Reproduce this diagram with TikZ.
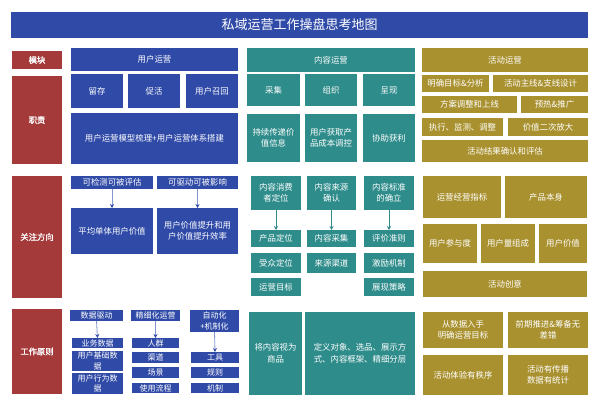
\documentclass[tikz,border=0pt]{standalone}
\usepackage{fontspec}
\setmainfont{Noto Sans CJK SC}
\newfontfamily\cjkbold{Noto Sans CJK SC}[FakeBold=1.5]
\usetikzlibrary{arrows.meta}
\definecolor{ublue}{HTML}{2F4AA7}
\definecolor{ured}{HTML}{A53A3B}
\definecolor{uteal}{HTML}{2E8C8B}
\definecolor{ugold}{HTML}{A9912F}
\definecolor{ublueline}{HTML}{8596CF}
\tikzset{
  base/.style={inner sep=0pt, outer sep=0pt, align=center, text=white, font=\fontsize{8.4}{11.5}\selectfont},
  ub/.style={base, fill=ublue},
  ubs/.style={ub, font=\fontsize{8}{10.5}\selectfont},
  ur/.style={base, fill=ured, font=\cjkbold\fontsize{8.3}{11.5}\selectfont},
  ut/.style={base, fill=uteal},
  ug/.style={base, fill=ugold},
  ttl/.style={base, fill=ublue, font=\fontsize{13}{15}\selectfont},
  barrow/.style={draw=ublueline, line width=0.8pt, -{Stealth[length=4pt,width=4pt,color=ublue]}},
  tarrow/.style={draw=uteal, line width=0.8pt, -{Stealth[length=4pt,width=4pt,color=uteal]}},
}
\newcommand\bx[7]{%
  \pgfmathsetmacro\bxw{#4-#2}\pgfmathsetmacro\bxh{#5-#3}%
  \pgfmathsetmacro\bxcx{(#2+#4)/2}\pgfmathsetmacro\bxcy{(#3+#5)/2}%
  \node[#6, minimum width=\bxw pt, minimum height=\bxh pt] (#1) at (\bxcx pt,-\bxcy pt) {#7};}
\begin{document}
\begin{tikzpicture}
\useasboundingbox (0,0) rectangle (600pt,-406pt);
% title
\bx{title}{11}{12}{588}{38}{ttl}{私域运营工作操盘思考地图}
% row labels
\bx{r1}{12}{51}{62}{69}{ur}{模块}
\bx{r2}{12}{76}{62}{164}{ur}{职责}
\bx{r3}{12}{176}{62}{298}{ur}{关注方向}
\bx{r4}{12}{309}{62}{394}{ur}{工作原则}
% user column
\bx{u0}{71}{48}{238}{71}{ub}{用户运营}
\bx{u1}{71}{74}{123}{108}{ub}{留存}
\bx{u2}{128}{74}{180}{108}{ub}{促活}
\bx{u3}{186}{74}{238}{108}{ub}{用户召回}
\bx{u4}{71}{113}{238}{164}{ub}{用户运营模型梳理+用户运营体系搭建}
\bx{ua1}{71}{176}{153}{189}{ub}{可检测可被评估}
\bx{ua2}{157}{176}{238}{189}{ub}{可驱动可被影响}
\bx{ub1}{71}{208}{153}{254}{ub}{平均单体用户价值}
\bx{ub2}{157}{208}{238}{254}{ub}{用户价值提升和用\\户价值提升效率}
\bx{uc1}{70}{310}{123}{321}{ubs}{数据驱动}
\bx{uc2}{131}{310}{180}{321}{ubs}{精细化运营}
\bx{uc3}{190}{310}{239}{332}{ubs}{自动化\\+机制化}
\bx{ud1}{72}{338}{123}{348}{ubs}{业务数据}
\bx{ud2}{72}{351}{123}{371}{ubs}{用户基础数\\据}
\bx{ud3}{72}{373}{123}{394}{ubs}{用户行为数\\据}
\bx{ue1}{132}{338}{179}{348}{ubs}{人群}
\bx{ue2}{132}{352}{179}{363}{ubs}{渠道}
\bx{ue3}{132}{367}{179}{378}{ubs}{场景}
\bx{ue4}{132}{383}{179}{393}{ubs}{使用流程}
\bx{uf1}{191}{352}{239}{363}{ubs}{工具}
\bx{uf2}{191}{367}{239}{378}{ubs}{规则}
\bx{uf3}{191}{383}{239}{393}{ubs}{机制}
\draw[barrow] (ua1.south) -- (ub1.north);
\draw[barrow] (ua2.south) -- (ub2.north);
\draw[barrow] (uc1.south) -- (ud1.north);
\draw[barrow] (uc2.south) -- (ue1.north);
\draw[barrow] (uc3.south) -- (uf1.north);
% content column
\bx{c0}{247}{48}{415}{72}{ut}{内容运营}
\bx{c1}{247}{74}{300}{106}{ut}{采集}
\bx{c2}{305}{74}{357}{106}{ut}{组织}
\bx{c3}{363}{74}{415}{106}{ut}{呈现}
\bx{c4}{247}{114}{300}{162}{ut}{持续传递价\\值信息}
\bx{c5}{305}{114}{357}{162}{ut}{用户获取产\\品成本调控}
\bx{c6}{363}{114}{415}{162}{ut}{协助获利}
\bx{ca1}{251}{176}{301}{210}{ut}{内容消费\\者定位}
\bx{ca2}{307}{176}{356}{210}{ut}{内容来源\\确认}
\bx{ca3}{364}{176}{414}{210}{ut}{内容标准\\的确立}
\bx{cb1}{251}{230}{301}{247}{ut}{产品定位}
\bx{cb2}{251}{253}{301}{273}{ut}{受众定位}
\bx{cb3}{251}{278}{301}{296}{ut}{运营目标}
\bx{cc1}{307}{230}{356}{247}{ut}{内容采集}
\bx{cc2}{307}{253}{356}{273}{ut}{来源渠道}
\bx{cd1}{364}{230}{414}{247}{ut}{评价准则}
\bx{cd2}{364}{253}{414}{273}{ut}{激励机制}
\bx{cd3}{364}{278}{414}{296}{ut}{展现策略}
\draw[tarrow] (ca1.south) -- (cb1.north);
\draw[tarrow] (ca2.south) -- (cc1.north);
\draw[tarrow] (ca3.south) -- (cd1.north);
\bx{ce1}{249}{312}{302}{395}{ut}{将内容视为\\商品}
\bx{ce2}{305}{312}{415}{395}{ut}{定义对象、选品、展示方\\式、内容框架、精细分层}
% activity column
\bx{g0}{422}{48}{588}{72}{ug}{活动运营}
\bx{g1}{422}{75}{489}{92}{ug}{明确目标\&分析}
\bx{g2}{493}{75}{588}{92}{ug}{活动主线\&支线设计}
\bx{g3}{422}{96}{517}{113}{ug}{方案调整和上线}
\bx{g4}{521}{96}{588}{113}{ug}{预热\&推广}
\bx{g5}{422}{118}{503}{136}{ug}{执行、监测、调整}
\bx{g6}{508}{118}{588}{136}{ug}{价值二次放大}
\bx{g7}{422}{140}{588}{162}{ug}{活动结果确认和评估}
\bx{ga1}{423}{176}{501}{218}{ug}{运营经营指标}
\bx{ga2}{505}{176}{587}{218}{ug}{产品本身}
\bx{gb1}{423}{224}{477}{263}{ug}{用户参与度}
\bx{gb2}{481}{224}{535}{263}{ug}{用户量组成}
\bx{gb3}{539}{224}{587}{263}{ug}{用户价值}
\bx{gc}{423}{271}{587}{297}{ug}{活动创意}
\bx{gd1}{423}{312}{503}{348}{ug}{从数据入手\\明确运营目标}
\bx{gd2}{508}{312}{588}{348}{ug}{前期推进\&筹备无\\差错}
\bx{gd3}{423}{355}{503}{395}{ug}{活动体验有秩序}
\bx{gd4}{508}{355}{588}{395}{ug}{活动有传播\\数据有统计}
\end{tikzpicture}
\end{document}
